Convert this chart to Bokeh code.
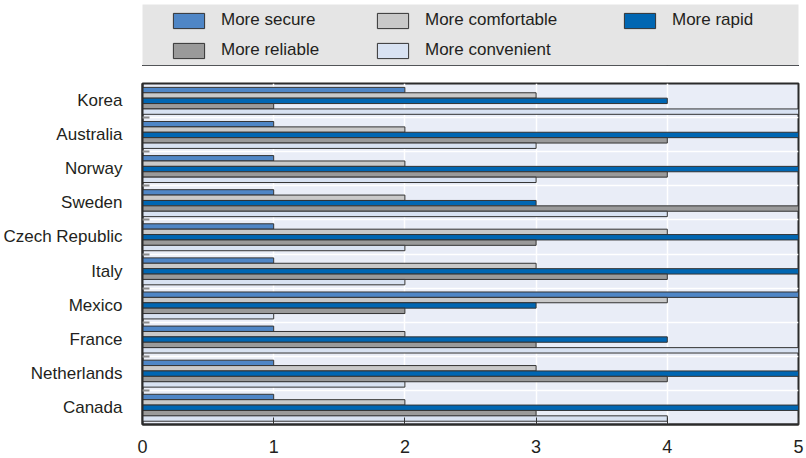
from bokeh.plotting import figure
from bokeh.layouts import column
from bokeh.models import Range1d, FixedTicker, Legend, LegendItem, ColumnDataSource
from bokeh.embed import file_html
from bokeh.resources import INLINE

# Ratings per country (0-5 scale)
countries = ["Korea", "Australia", "Norway", "Sweden", "Czech Republic",
             "Italy", "Mexico", "France", "Netherlands", "Canada"]
more_secure = [2, 1, 1, 1, 1, 1, 5, 1, 1, 1]
more_comfortable = [3, 2, 2, 2, 4, 3, 4, 2, 3, 2]
more_rapid = [4, 5, 5, 3, 5, 5, 3, 4, 5, 5]
more_reliable = [1, 4, 4, 5, 3, 4, 2, 3, 4, 3]
more_convenient = [5, 3, 3, 4, 2, 2, 1, 5, 2, 4]
x_ticks = [0, 1, 2, 3, 4, 5]

# series drawn top-to-bottom inside each country group
series = [
    ("More secure", more_secure, "#4f86c6"),
    ("More comfortable", more_comfortable, "#c9c9c9"),
    ("More rapid", more_rapid, "#0066b2"),
    ("More reliable", more_reliable, "#9a9a9a"),
    ("More convenient", more_convenient, "#d8e2f2"),
]

FONT = "Liberation Sans"
TEXT = "#231f20"
n = len(countries)
bar_h = 0.158
top_pad = 0.114

# ---- main chart ----
p = figure(width=806, height=390, output_backend="svg", toolbar_location=None,
           x_range=Range1d(0, 5), y_range=Range1d(n, 0),
           min_border_left=142, min_border_right=8, min_border_top=15, min_border_bottom=34)
p.background_fill_color = "#e9edf7"
p.border_fill_color = "white"
p.outline_line_color = "#2b2b2b"
p.outline_line_width = 2

# ---- legend header (gray band) ----
h = figure(width=806, height=68, output_backend="svg", toolbar_location=None,
           x_range=Range1d(0, 5), y_range=Range1d(100, 101),
           x_axis_type=None, y_axis_type=None,
           min_border_left=142, min_border_right=6, min_border_top=4, min_border_bottom=3)
h.background_fill_color = "#e5e5e5"
h.border_fill_color = "white"
h.outline_line_color = None
h.xgrid.visible = False
h.ygrid.visible = False

legend_renderers = {}
for k, (name, vals, color) in enumerate(series):
    ys = [g + top_pad + bar_h * (k + 0.5) for g in range(n)]
    src = ColumnDataSource(dict(y=ys, right=vals))
    style = dict(fill_color=color, line_color="#333333", line_width=1)
    p.hbar(y="y", left=0, right="right", height=bar_h, source=src, **style)
    # same bars in the header figure (outside its visible range) to supply legend swatches
    legend_renderers[name] = h.hbar(y="y", left=0, right="right", height=bar_h, source=src, **style)

# axes
p.xaxis.ticker = FixedTicker(ticks=x_ticks)
p.xaxis.major_tick_in = 7
p.xaxis.major_tick_out = 0
p.xaxis.major_tick_line_color = "#333333"
p.xaxis.minor_tick_line_color = None
p.xaxis.axis_line_color = "#2b2b2b"
p.xaxis.axis_line_width = 2
p.xaxis.major_label_text_font = FONT
p.xaxis.major_label_text_font_size = "18px"
p.xaxis.major_label_text_color = TEXT
p.xaxis.major_label_standoff = 15

centers = [g + 0.5 for g in range(n)]
bounds = [float(g) for g in range(1, n)]
p.yaxis.ticker = FixedTicker(ticks=centers, minor_ticks=bounds)
p.yaxis.major_label_overrides = {c: name for c, name in zip(centers, countries)}
p.yaxis.major_tick_line_color = None
p.yaxis.minor_tick_in = 7
p.yaxis.minor_tick_out = 0
p.yaxis.minor_tick_line_color = "#8a8a8a"
p.yaxis.minor_tick_line_width = 2
p.yaxis.axis_line_color = "#2b2b2b"
p.yaxis.axis_line_width = 2
p.yaxis.major_label_text_font = FONT
p.yaxis.major_label_text_font_size = "17px"
p.yaxis.major_label_text_color = TEXT
p.yaxis.major_label_standoff = 14

# grid
p.xgrid.ticker = FixedTicker(ticks=x_ticks[1:-1])
p.xgrid.grid_line_color = "white"
p.xgrid.grid_line_width = 1.5
p.ygrid.ticker = FixedTicker(ticks=bounds)
p.ygrid.grid_line_color = "white"
p.ygrid.grid_line_width = 1.5

# legend, three columns inside the gray band
columns = [
    (["More secure", "More reliable"], 27, 5),
    (["More comfortable", "More convenient"], 231, 5),
    (["More rapid"], 478, 35),
]
for names, xoff, yoff in columns:
    leg = Legend(items=[LegendItem(label=nm, renderers=[legend_renderers[nm]]) for nm in names],
                 location=(xoff, yoff), orientation="vertical",
                 glyph_width=39, glyph_height=19, label_standoff=13,
                 label_height=20, spacing=10, padding=0, margin=0,
                 border_line_color=None, background_fill_alpha=0,
                 label_text_font=FONT, label_text_font_size="17px",
                 label_text_color=TEXT)
    h.add_layout(leg)

layout = column(h, p, spacing=0)
open("out.html", "w").write(file_html(layout, INLINE))
